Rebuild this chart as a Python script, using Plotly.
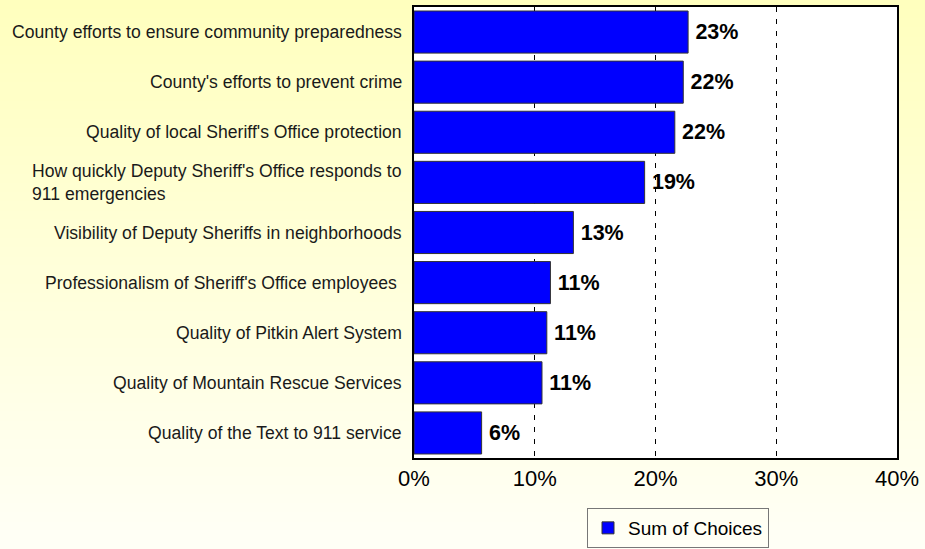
import plotly.graph_objects as go

# Survey results: share of respondents choosing each item (fraction of 1)
categories = [
    "County efforts to ensure community preparedness",
    "County's efforts to prevent crime",
    "Quality of local Sheriff's Office protection",
    "How quickly Deputy Sheriff's Office responds to<br>911 emergencies",
    "Visibility of Deputy Sheriffs in neighborhoods",
    "Professionalism of Sheriff's Office employees ",
    "Quality of Pitkin Alert System",
    "Quality of Mountain Rescue Services",
    "Quality of the Text to 911 service",
]
shares = [0.227, 0.223, 0.216, 0.191, 0.132, 0.113, 0.110, 0.106, 0.056]
x_ticks = [0, 0.1, 0.2, 0.3, 0.4]
x_tick_text = ["0%", "10%", "20%", "30%", "40%"]
series_name = "Sum of Choices"

W, H = 925, 549
ML, MR, MT, MB = 414, 28, 7, 91
PW, PH = W - ML - MR, H - MT - MB

FONT = "Arial, Liberation Sans, sans-serif"

fig = go.Figure()
fig.add_trace(go.Bar(
    y=categories,
    x=shares,
    orientation="h",
    name=series_name,
    marker=dict(color="#0000FF", line=dict(color="#333333", width=1)),
    text=shares,
    texttemplate="\u2009%{x:.0%}",
    textposition="outside",
    textfont=dict(family=FONT, size=21.5, color="black", weight="bold"),
    constraintext="none",
    cliponaxis=False,
    showlegend=True,
))

# Paper background: vertical pale-yellow gradient fading to near-white
shapes = []
n_bands = 60
x0p, x1p = -ML / PW, (W - ML) / PW
top_c, bot_c = (255, 255, 190), (255, 255, 246)
for i in range(n_bands):
    t = i / (n_bands - 1)
    r = round(top_c[0] + (bot_c[0] - top_c[0]) * t)
    g = round(top_c[1] + (bot_c[1] - top_c[1]) * t)
    b = round(top_c[2] + (bot_c[2] - top_c[2]) * t)
    ytop = (H - MB - i * H / n_bands) / PH
    ybot = (H - MB - (i + 1) * H / n_bands - 1) / PH
    shapes.append(dict(
        type="rect", xref="paper", yref="paper",
        x0=x0p, x1=x1p, y0=ybot, y1=ytop,
        fillcolor=f"rgb({r},{g},{b})", line=dict(width=0), layer="below",
    ))
# White plotting area
shapes.append(dict(
    type="rect", xref="paper", yref="paper", x0=0, x1=1, y0=0, y1=1,
    fillcolor="white", line=dict(width=0), layer="below",
))

# Category labels as annotations so wrapped text stays left-aligned
annotations = []
for c in categories:
    annotations.append(dict(
        xref="paper", yref="y", x=0, y=c, xanchor="right", yanchor="middle",
        xshift=-10, text=c, showarrow=False, align="left",
        font=dict(family=FONT, size=17.6, color="#1a1a1a"),
    ))

fig.update_layout(
    width=W, height=H,
    margin=dict(l=ML, r=MR, t=MT, b=MB, autoexpand=False),
    paper_bgcolor="white",
    plot_bgcolor="rgba(0,0,0,0)",
    shapes=shapes,
    annotations=annotations,
    bargap=0.16,
    font=dict(family=FONT, color="black"),
    xaxis=dict(
        range=[0, 0.4],
        tickvals=x_ticks,
        ticktext=x_tick_text,
        tickfont=dict(family=FONT, size=22, color="black"),
        showgrid=True,
        gridcolor="black",
        gridwidth=1,
        griddash="5px,7px",
        zeroline=False,
        showline=True,
        mirror=True,
        linecolor="black",
        linewidth=2,
        ticks="",
        fixedrange=True,
    ),
    yaxis=dict(
        categoryorder="array",
        categoryarray=categories,
        autorange="reversed",
        showticklabels=False,
        showgrid=False,
        zeroline=False,
        showline=True,
        mirror=True,
        linecolor="black",
        linewidth=2,
        ticks="inside",
        tickson="boundaries",
        tickcolor="white",
        ticklen=4,
        tickwidth=2,
        fixedrange=True,
    ),
    legend=dict(
        orientation="h",
        x=(678 - ML) / PW, xanchor="center",
        y=(H - MB - 548) / PH, yanchor="bottom",
        bgcolor="rgba(255,255,255,0)",
        bordercolor="#777777",
        borderwidth=1,
        font=dict(family=FONT, size=19, color="black"),
        itemwidth=30,
        tracegroupgap=0,
    ),
)

fig.write_html("out.html")
